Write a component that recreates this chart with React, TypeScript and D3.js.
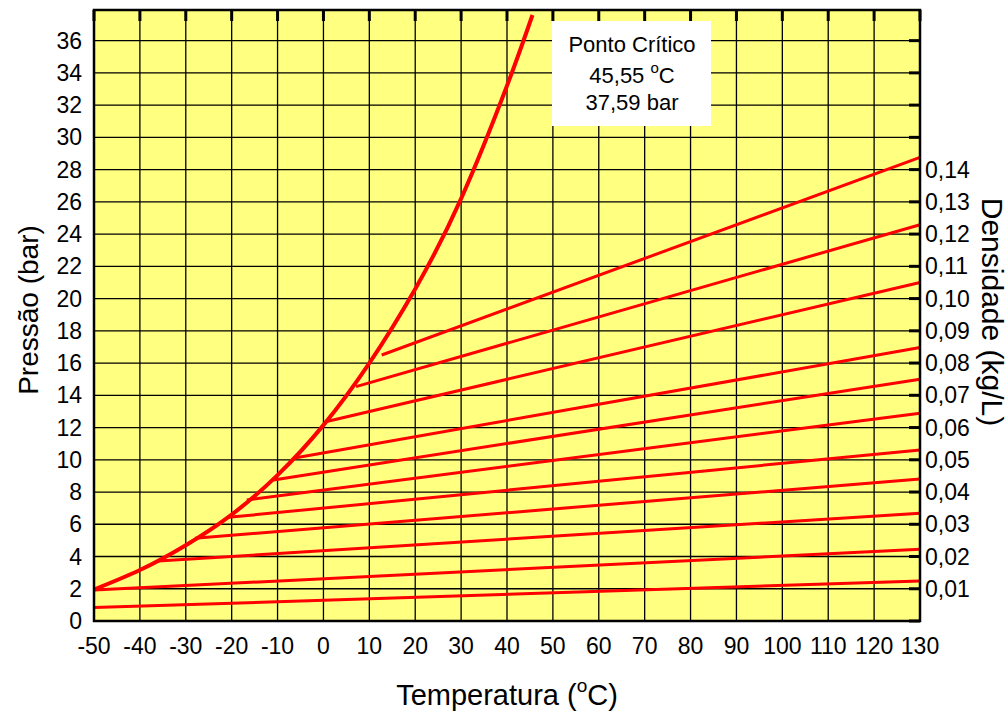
import React from "react";
import * as d3 from "d3";

const satT = [-50, -40, -30, -20, -10, 0, 10, 20, 30, 40, 45.55];
const satP = [1.95, 3.16, 4.7, 6.6, 9.05, 12.15, 16.0, 20.6, 26.2, 33.2, 37.59];

const lineStartT = [-50, -50, -36.0, -28.0, -20.7, -16.7, -10.9, -6.6, 0.7, 7.1, 12.7];
const lineStartP = [0.83, 1.92, 3.72, 5.13, 6.43, 7.51, 8.75, 10.1, 12.37, 14.54, 16.5];
const lineEndT = [130, 130, 130, 130, 130, 130, 130, 130, 130, 130, 130];
const lineEndP = [2.48, 4.45, 6.68, 8.81, 10.61, 12.89, 15.0, 16.96, 21.0, 24.58, 28.76];

const xTicks = [-50, -40, -30, -20, -10, 0, 10, 20, 30, 40, 50, 60, 70, 80, 90, 100, 110, 120, 130];
const yTicks = [0, 2, 4, 6, 8, 10, 12, 14, 16, 18, 20, 22, 24, 26, 28, 30, 32, 34, 36];
const densLabels = ["0,01", "0,02", "0,03", "0,04", "0,05", "0,06", "0,07", "0,08", "0,09", "0,10", "0,11", "0,12", "0,13", "0,14"];
const densP = [2, 4, 6, 8, 10, 12, 14, 16, 18, 20, 22, 24, 26, 28];

const critLines = ["Ponto Crítico", "45,55 ", "37,59 bar"];

export default function App() {
  const W = 1008, H = 713;
  const L = 94, R = 920, T = 10, B = 621;
  const x = d3.scaleLinear().domain([-50, 130]).range([L, R]);
  const y = d3.scaleLinear().domain([0, 37.9]).range([B, T]);
  const font = "'Liberation Sans', Arial, Helvetica, sans-serif";

  const satLine = d3
    .line<number>()
    .x((_, i) => x(satT[i]))
    .y((d) => y(d))
    .curve(d3.curveNatural)(satP) as string;

  return (
    <svg width={W} height={H} style={{ position: "absolute", left: 0, top: 0 }} fontFamily={font}>
      <rect x={0} y={0} width={W} height={H} fill="#fff" />
      <rect x={L} y={T} width={R - L} height={B - T} fill="#FFFF80" />
      {/* grid */}
      {xTicks.map((t) => (
        <line key={"gx" + t} x1={x(t)} x2={x(t)} y1={T} y2={B} stroke="#000" strokeWidth={1.3} />
      ))}
      {yTicks.map((t) => (
        <line key={"gy" + t} x1={L} x2={R} y1={y(t)} y2={y(t)} stroke="#000" strokeWidth={1.3} />
      ))}
      {/* top ticks */}
      {xTicks.map((t) => (
        <line key={"tt" + t} x1={x(t)} x2={x(t)} y1={T} y2={T + 11} stroke="#000" strokeWidth={3} />
      ))}
      {/* right ticks */}
      {yTicks.map((t) => (
        <line key={"rt" + t} x1={R - 11} x2={R} y1={y(t)} y2={y(t)} stroke="#000" strokeWidth={3} />
      ))}
      {/* density lines */}
      {lineStartT.map((t0, i) => (
        <line
          key={"dl" + i}
          x1={x(t0)}
          y1={y(lineStartP[i])}
          x2={x(lineEndT[i])}
          y2={y(lineEndP[i])}
          stroke="#FF0000"
          strokeWidth={3}
        />
      ))}
      {/* saturation curve */}
      <path d={satLine} fill="none" stroke="#FF0000" strokeWidth={4} />
      {/* border */}
      <rect x={L} y={T} width={R - L} height={B - T} fill="none" stroke="#000" strokeWidth={2.5} />
      {/* critical point box */}
      <rect x={552} y={21} width={159} height={105} fill="#fff" />
      <text x={632} y={52} fontSize={22} textAnchor="middle" fill="#000">{critLines[0]}</text>
      <text x={632} y={83} fontSize={22} textAnchor="middle" fill="#000">
        {critLines[1]}
        <tspan fontSize={15} dy={-10}>o</tspan>
        <tspan dy={10}>C</tspan>
      </text>
      <text x={632} y={110} fontSize={22} textAnchor="middle" fill="#000">{critLines[2]}</text>
      {/* left labels */}
      {yTicks.map((t) => (
        <text key={"yl" + t} x={82} y={y(t) + 8} fontSize={23} textAnchor="end" fill="#000">
          {t}
        </text>
      ))}
      {/* bottom labels */}
      {xTicks.map((t) => (
        <text key={"xl" + t} x={x(t)} y={654} fontSize={23} textAnchor="middle" fill="#000">
          {t}
        </text>
      ))}
      {/* right labels */}
      {densLabels.map((s, i) => (
        <text key={"dlab" + i} x={925} y={y(densP[i]) + 8} fontSize={23} textAnchor="start" fill="#000">
          {s}
        </text>
      ))}
      {/* axis titles */}
      <text x={507} y={705} fontSize={29} textAnchor="middle" fill="#000">
        Temperatura (<tspan fontSize={19} dy={-13}>o</tspan>
        <tspan dy={13}>C)</tspan>
      </text>
      <text transform={`translate(38,310) rotate(-90)`} fontSize={28} textAnchor="middle" fill="#000">
        Pressão (bar)
      </text>
      <text transform={`translate(982,312) rotate(90)`} fontSize={30} textAnchor="middle" fill="#000">
        Densidade (kg/L)
      </text>
    </svg>
  );
}
